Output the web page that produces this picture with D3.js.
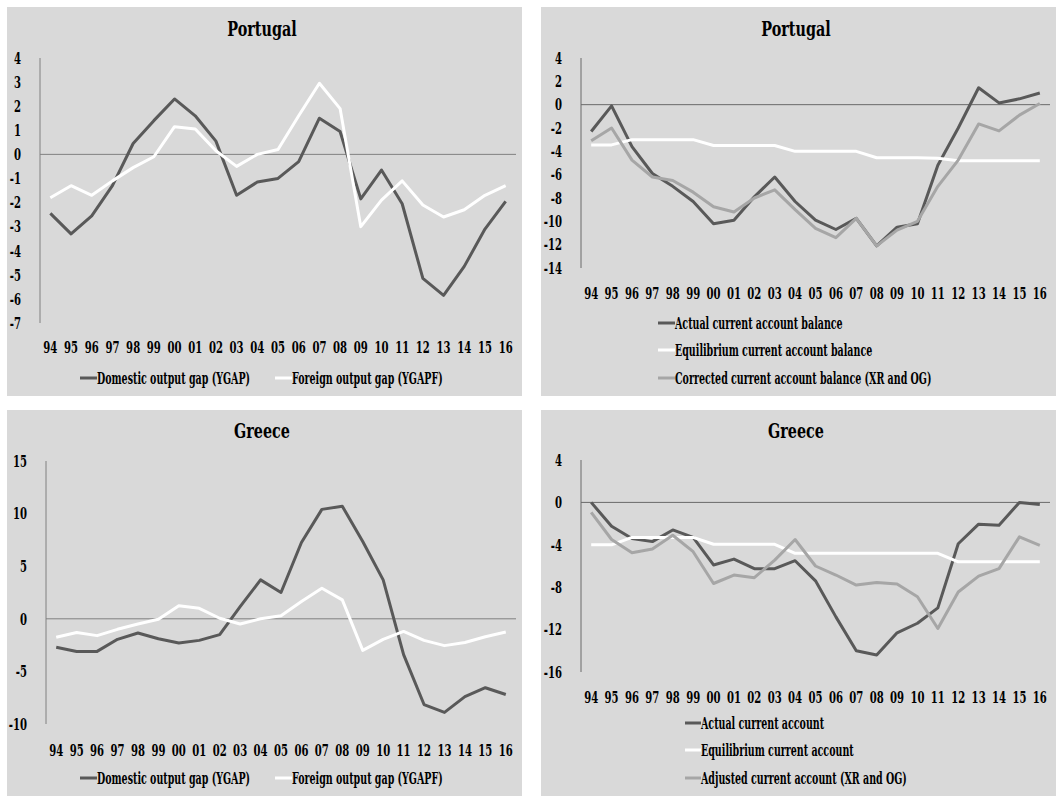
<!DOCTYPE html>
<html><head><meta charset="utf-8">
<script src="https://cdn.jsdelivr.net/npm/d3@7"></script>
<style>
html,body{margin:0;padding:0;background:#fff;}
svg text{font-family:"DejaVu Serif Condensed","DejaVu Serif",serif;font-stretch:condensed;font-weight:bold;fill:#000;}
</style></head>
<body>
<svg id="c" width="1056" height="796"></svg>
<script>
const years = ["94","95","96","97","98","99","00","01","02","03","04","05","06","07","08","09","10","11","12","13","14","15","16"];

// Portugal output gaps
const ptYgap  = [-2.45,-3.3,-2.55,-1.3,0.45,1.4,2.3,1.6,0.55,-1.7,-1.15,-1.0,-0.3,1.5,0.95,-1.85,-0.65,-2.05,-5.15,-5.85,-4.65,-3.1,-1.95];
const ptYgapf = [-1.8,-1.3,-1.7,-1.1,-0.55,-0.1,1.15,1.05,0.15,-0.5,0.0,0.2,1.6,2.95,1.9,-3.0,-1.9,-1.1,-2.1,-2.6,-2.3,-1.7,-1.3];
// Portugal current account
const ptActual    = [-2.3,-0.1,-3.6,-5.9,-7.0,-8.3,-10.2,-9.9,-7.9,-6.2,-8.3,-9.9,-10.7,-9.75,-12.1,-10.5,-10.2,-5.2,-2.0,1.45,0.15,0.5,1.0];
const ptEquil     = [-3.45,-3.45,-3.0,-3.0,-3.0,-3.0,-3.5,-3.5,-3.5,-3.5,-4.0,-4.0,-4.0,-4.0,-4.55,-4.55,-4.55,-4.6,-4.8,-4.8,-4.8,-4.8,-4.8];
const ptCorrected = [-3.1,-2.0,-4.75,-6.2,-6.5,-7.5,-8.75,-9.2,-8.0,-7.3,-9.0,-10.6,-11.4,-9.75,-12.1,-10.75,-10.0,-7.0,-4.75,-1.65,-2.25,-0.9,0.1];
// Greece output gaps
const grYgap  = [-2.7,-3.1,-3.1,-1.95,-1.35,-1.9,-2.3,-2.05,-1.5,1.15,3.7,2.5,7.25,10.4,10.7,7.35,3.7,-3.4,-8.15,-8.9,-7.4,-6.55,-7.2];
const grYgapf = [-1.75,-1.3,-1.6,-1.0,-0.5,-0.05,1.25,1.0,0.05,-0.5,0.0,0.3,1.65,2.9,1.8,-3.0,-1.95,-1.2,-2.05,-2.55,-2.25,-1.7,-1.25];
// Greece current account
const grActual   = [0.0,-2.25,-3.4,-3.7,-2.6,-3.3,-5.9,-5.35,-6.25,-6.25,-5.5,-7.4,-10.8,-14.0,-14.4,-12.3,-11.4,-9.95,-3.9,-2.05,-2.15,0.0,-0.2];
const grEquil    = [-4.0,-4.0,-3.3,-3.3,-3.3,-3.3,-3.95,-3.95,-3.95,-3.95,-4.8,-4.8,-4.8,-4.8,-4.8,-4.8,-4.8,-4.8,-5.6,-5.6,-5.6,-5.6,-5.6];
const grAdjusted = [-0.95,-3.5,-4.75,-4.4,-3.1,-4.65,-7.65,-6.85,-7.1,-5.45,-3.5,-6.0,-6.85,-7.8,-7.55,-7.7,-8.9,-11.9,-8.45,-6.95,-6.25,-3.25,-4.05];

const ptGapTicks = [4,3,2,1,0,-1,-2,-3,-4,-5,-6,-7];
const ptCaTicks  = [4,2,0,-2,-4,-6,-8,-10,-12,-14];
const grGapTicks = [15,10,5,0,-5,-10];
const grCaTicks  = [4,0,-4,-8,-12,-16];

const gapNames = ["Domestic output gap (YGAP)","Foreign output gap (YGAPF)"];
const ptCaNames = ["Actual current account balance","Equilibrium current account balance","Corrected current account balance (XR and OG)"];
const grCaNames = ["Actual current account","Equilibrium current account","Adjusted current account (XR and OG)"];

const DARK="#595959", WHITE="#ffffff", LIGHT="#a6a6a6", BG="#d9d9d9";
const svg = d3.select("#c");

function txt(g, x, y, s, size, sx, anchor){
  return g.append("g").attr("transform",`translate(${x},${y})`)
    .append("text").attr("transform",`scale(${sx},1)`)
    .attr("text-anchor",anchor||"start").attr("dy","0.36em")
    .style("font-size",size+"px").text(s);
}

const panels = [
  {bg:[7,7,515,389], title:"Portugal", tx:262, ty:28, xr:[40,516], yd:[-7,4], yr:[323,58], ticks:ptGapTicks,
   series:[ptYgap,ptYgapf], colors:[DARK,WHITE], names:gapNames, xly:347, zc:"#808080",
   legend:{type:"row", y:378, items:[[80,97],[275,292]]}},
  {bg:[541,7,515,389], title:"Portugal", tx:796, ty:28, xr:[581,1050], yd:[-14,4], yr:[268,58], ticks:ptCaTicks,
   series:[ptActual,ptEquil,ptCorrected], colors:[DARK,WHITE,LIGHT], names:ptCaNames, xly:293, zc:"#6a6a6a",
   legend:{type:"col", x0:658, x1:675, ys:[323,350,378]}},
  {bg:[7,410,515,386], title:"Greece", tx:262, ty:430, xr:[46,516], yd:[-10,15], yr:[724,461], ticks:grGapTicks,
   series:[grYgap,grYgapf], colors:[DARK,WHITE], names:gapNames, xly:750, zc:"#808080",
   legend:{type:"row", y:778, items:[[80,97],[275,292]]}},
  {bg:[541,410,515,386], title:"Greece", tx:796, ty:430, xr:[581,1050], yd:[-16,4], yr:[672,460], ticks:grCaTicks,
   series:[grActual,grEquil,grAdjusted], colors:[DARK,WHITE,LIGHT], names:grCaNames, xly:697, zc:"#6a6a6a",
   legend:{type:"col", x0:685, x1:701, ys:[723,750,778]}}
];

panels.forEach(p=>{
  const g = svg.append("g");
  g.append("rect").attr("x",p.bg[0]).attr("y",p.bg[1]).attr("width",p.bg[2]).attr("height",p.bg[3]).attr("fill",BG);
  const x = d3.scaleBand().domain(years).range(p.xr);
  const y = d3.scaleLinear().domain(p.yd).range(p.yr);
  const cx = d => x(d)+x.bandwidth()/2;
  txt(g, p.tx, p.ty, p.title, 21, 0.76, "middle");
  g.append("line").attr("x1",p.xr[0]).attr("x2",p.xr[0]).attr("y1",p.yr[1]).attr("y2",p.yr[0]).attr("stroke",p.zc).attr("stroke-width",1);
  g.append("line").attr("x1",p.xr[0]).attr("x2",p.xr[1]).attr("y1",y(0)).attr("y2",y(0)).attr("stroke",p.zc).attr("stroke-width",1);
  p.ticks.forEach(t=> txt(g, p.xr[0]-19, y(t), String(t), 16, 0.70, "end"));
  years.forEach(yr=> txt(g, cx(yr), p.xly, yr, 16, 0.70, "middle"));
  const line = d3.line().x((d,i)=>cx(years[i])).y(d=>y(d));
  p.series.forEach((s,i)=>{
    g.append("path").datum(s).attr("d",line).attr("fill","none")
      .attr("stroke",p.colors[i]).attr("stroke-width",3).attr("stroke-linejoin","round");
  });
  if(p.legend.type==="row"){
    p.legend.items.forEach((it,i)=>{
      g.append("line").attr("x1",it[0]).attr("x2",it[1]).attr("y1",p.legend.y).attr("y2",p.legend.y)
        .attr("stroke",p.colors[i]).attr("stroke-width",3);
      txt(g, it[1], p.legend.y, p.names[i], 16, 0.66, "start");
    });
  } else {
    p.legend.ys.forEach((ly,i)=>{
      g.append("line").attr("x1",p.legend.x0).attr("x2",p.legend.x1).attr("y1",ly).attr("y2",ly)
        .attr("stroke",p.colors[i]).attr("stroke-width",3);
      txt(g, p.legend.x1, ly, p.names[i], 16, 0.66, "start");
    });
  }
});
</script>
</body></html>
